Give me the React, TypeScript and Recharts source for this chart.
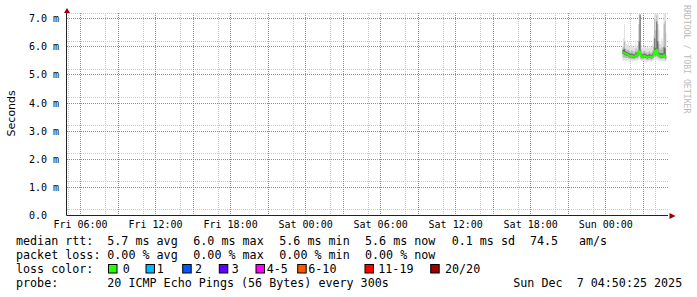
import React from "react";
import { ComposedChart, Area, Line, XAxis, YAxis, CartesianGrid } from "recharts";

// 5 minute steps on Sunday
const times = [
  "01:20", "01:25", "01:30", "01:35", "01:40", "01:45", "01:50", "01:55",
  "02:00", "02:05", "02:10", "02:15", "02:20", "02:25", "02:30", "02:35",
  "02:40", "02:45", "02:50", "02:55", "03:00", "03:05", "03:10", "03:15",
  "03:20", "03:25", "03:30", "03:35", "03:40", "03:45", "03:50", "03:55",
  "04:00", "04:05", "04:10", "04:15", "04:20", "04:25", "04:30", "04:35",
  "04:40", "04:45", "04:50",
];

// ms
const median = [
  5.80, 5.80, 5.78, 5.76, 5.74, 5.73, 5.70, 5.68, 5.66, 5.68, 5.66, 5.64, 5.66, 5.70, 5.68, 5.72,
  5.84, 5.78, 5.66, 5.64, 5.66, 5.68, 5.66, 5.64, 5.62, 5.64, 5.66, 5.64, 5.62, 5.66, 5.70, 5.88,
  5.76, 5.92, 5.74, 5.70, 5.68, 5.66, 5.68, 5.66, 5.70, 5.64, 5.60,
];
const smokeMin = [
  5.52, 5.50, 5.52, 5.50, 5.50, 5.52, 5.50, 5.48, 5.50, 5.50, 5.48, 5.50, 5.50, 5.52, 5.50, 5.52,
  5.55, 5.52, 5.50, 5.48, 5.50, 5.50, 5.50, 5.48, 5.46, 5.48, 5.50, 5.48, 5.48, 5.50, 5.52, 5.55,
  5.52, 5.56, 5.52, 5.50, 5.50, 5.48, 5.50, 5.48, 5.50, 5.48, 5.46,
];
const smokeMax = [
  6.05, 6.30, 6.80, 6.20, 6.10, 6.05, 6.15, 6.00, 5.98, 6.10, 6.00, 5.95, 6.05, 6.20, 6.00, 6.10,
  7.15, 7.15, 6.10, 5.95, 6.00, 6.05, 5.98, 5.95, 6.00, 5.95, 6.05, 5.98, 6.00, 6.10, 6.40, 7.18,
  7.18, 7.18, 7.18, 6.60, 6.20, 6.10, 6.30, 6.20, 7.18, 7.18, 7.18,
];
const midLo = [
  5.64, 5.62, 5.62, 5.60, 5.60, 5.60, 5.58, 5.58, 5.56, 5.58, 5.56, 5.55, 5.56, 5.60, 5.58, 5.60,
  5.66, 5.64, 5.56, 5.55, 5.56, 5.58, 5.56, 5.55, 5.54, 5.55, 5.56, 5.55, 5.54, 5.56, 5.60, 5.66,
  5.62, 5.68, 5.62, 5.60, 5.58, 5.56, 5.58, 5.56, 5.60, 5.55, 5.52,
];
const midHi = [
  5.95, 6.00, 6.20, 5.95, 5.90, 5.88, 5.90, 5.85, 5.82, 5.88, 5.84, 5.80, 5.85, 5.95, 5.86, 5.92,
  6.80, 7.10, 5.90, 5.80, 5.84, 5.86, 5.82, 5.80, 5.80, 5.80, 5.84, 5.80, 5.80, 5.88, 6.00, 7.00,
  6.60, 7.10, 6.80, 6.10, 5.95, 5.90, 6.00, 5.95, 6.80, 6.90, 6.50,
];
const innerLo = [
  5.74, 5.74, 5.72, 5.70, 5.68, 5.68, 5.65, 5.63, 5.61, 5.63, 5.61, 5.60, 5.61, 5.65, 5.63, 5.67,
  5.76, 5.72, 5.61, 5.60, 5.61, 5.63, 5.61, 5.60, 5.58, 5.60, 5.61, 5.60, 5.58, 5.61, 5.65, 5.78,
  5.70, 5.82, 5.68, 5.65, 5.63, 5.61, 5.63, 5.61, 5.65, 5.60, 5.56,
];
const innerHi = [
  5.88, 5.90, 5.92, 5.84, 5.82, 5.80, 5.78, 5.76, 5.74, 5.76, 5.74, 5.72, 5.74, 5.80, 5.76, 5.82,
  6.20, 7.15, 5.76, 5.72, 5.74, 5.76, 5.74, 5.72, 5.70, 5.72, 5.74, 5.72, 5.70, 5.76, 5.82, 6.30,
  5.95, 6.90, 6.20, 5.80, 5.78, 5.76, 5.78, 5.76, 6.00, 5.95, 5.70,
];

// hours since Fri 00:00
const xTicks = [6, 12, 18, 24, 30, 36, 42, 48];
const xTickLabels = [
  "Fri 06:00", "Fri 12:00", "Fri 18:00", "Sat 00:00",
  "Sat 06:00", "Sat 12:00", "Sat 18:00", "Sun 00:00",
];
const yTicks = [0, 1, 2, 3, 4, 5, 6, 7];
const yTickLabels = ["0.0", "1.0 m", "2.0 m", "3.0 m", "4.0 m", "5.0 m", "6.0 m", "7.0 m"];

const lossColors = ["#26ff00", "#00b8ff", "#0059ff", "#5e00ff", "#ff00ff", "#ff5500", "#ff0000", "#a00000"];
const lossLabels = ["0", "1", "2", "3", "4-5", "6-10", "11-19", "20/20"];

const data = times.map((t, i) => {
  const [hh, mm] = t.split(":").map(Number);
  return {
    x: 48 + hh + mm / 60,
    median: median[i],
    outer: [smokeMin[i], smokeMax[i]],
    mid: [midLo[i], midHi[i]],
    inner: [innerLo[i], innerHi[i]],
  };
});

const X_DOMAIN: [number, number] = [4.88, 52.98];
const Y_DOMAIN: [number, number] = [0, 7.2];

const minorX: number[] = [];
const majorX: number[] = [];
for (let h = 5; h <= 52; h++) (h % 3 === 0 ? majorX : minorX).push(h);
const minorY: number[] = [];
const majorY: number[] = [];
for (let k = 1; k <= 36; k++) (k % 5 === 0 ? majorY : minorY).push(k / 5);

const MONO = "'DejaVu Sans Mono', monospace";

const legendRows = [
  { y: 245, parts: [[16, "median rtt:"], [107.3, "5.7 ms avg"], [193.3, "6.0 ms max"], [279.3, "5.6 ms min"], [365, "5.6 ms now"], [451.7, "0.1 ms sd"], [530, "74.5"], [579, "am/s"]] },
  { y: 259, parts: [[16, "packet loss:"], [107.3, "0.00 % avg"], [193.3, "0.00 % max"], [279.3, "0.00 % min"], [365, "0.00 % now"]] },
  { y: 273, parts: [[16, "loss color:"]] },
  { y: 287, parts: [[16, "probe:"], [107.3, "20 ICMP Echo Pings (56 Bytes) every 300s"], [513.3, "Sun Dec  7 04:50:25 2025"]] },
];
const boxX = [108.5, 146, 182.7, 219.3, 256, 297.7, 365, 430.7];
const boxLabelX = [122.7, 156.7, 195, 231.7, 266.7, 308.3, 378.3, 445];

function XTick(p: any) {
  return (
    <text x={p.x} y={228} textAnchor="middle" fontFamily={MONO} fontSize={10} fill="#000">
      {xTickLabels[xTicks.indexOf(p.payload.value)]}
    </text>
  );
}

function YTick(p: any) {
  return (
    <text x={29} y={p.y + 3.5} textAnchor="start" fontFamily={MONO} fontSize={10} fill="#000">
      {yTickLabels[yTicks.indexOf(p.payload.value)]}
    </text>
  );
}

export default function App() {
  return (
    <div style={{ position: "absolute", left: 0, top: 0, width: 697, height: 297, background: "#fff" }}>
      <ComposedChart width={697} height={297} data={data} margin={{ top: 13, right: 29, bottom: 0, left: 0 }}>
        <CartesianGrid
          stroke="#c8c8c8"
          strokeDasharray="1 1"
          shapeRendering="crispEdges"
          verticalValues={minorX}
          horizontalValues={minorY}
        />
        <CartesianGrid
          stroke="#ff6060"
          strokeDasharray="1 1"
          shapeRendering="crispEdges"
          verticalValues={majorX}
          horizontalValues={majorY}
        />
        <XAxis
          dataKey="x"
          type="number"
          domain={X_DOMAIN}
          ticks={xTicks}
          allowDataOverflow
          height={81.5}
          axisLine={{ stroke: "#222" }}
          tickLine={false}
          tick={<XTick />}
        />
        <YAxis
          type="number"
          domain={Y_DOMAIN}
          ticks={yTicks}
          allowDataOverflow
          width={66.5}
          axisLine={{ stroke: "#222" }}
          tickLine={false}
          tick={<YTick />}
        />
        <Area dataKey="outer" type="step" stroke="none" fill="#e2e2e2" fillOpacity={1} isAnimationActive={false} />
        <Area dataKey="mid" type="step" stroke="none" fill="#b8b8b8" fillOpacity={1} isAnimationActive={false} />
        <Area dataKey="inner" type="step" stroke="none" fill="#6a6a6a" fillOpacity={1} isAnimationActive={false} />
        <Line dataKey="median" type="linear" stroke="#26ff00" strokeWidth={2} dot={false} isAnimationActive={false} />
      </ComposedChart>
      <svg width={8} height={6} style={{ position: "absolute", left: 62.5, top: 8, pointerEvents: "none" }}>
        <polygon points="1,5 7,5 4,0" fill="#990000" />
      </svg>
      <svg width={7} height={8} style={{ position: "absolute", left: 668.5, top: 211.5, pointerEvents: "none" }}>
        <polygon points="0.5,1 0.5,7 6.5,4" fill="#990000" />
      </svg>
      <svg width={697} height={297} style={{ position: "absolute", left: 0, top: 0, pointerEvents: "none" }}>
        <text
          transform="translate(14.5,113.3) rotate(-90)"
          textAnchor="middle"
          fontFamily="'DejaVu Sans', sans-serif"
          fontSize={11}
          fill="#000"
        >
          Seconds
        </text>
        <text transform="translate(684,5) rotate(90)" fontFamily={MONO} fontSize={8.2} fill="#bbb">
          RRDTOOL / TOBI OETIKER
        </text>
        {legendRows.map((row) =>
          row.parts.map(([x, s]) => (
            <text
              key={`${row.y}-${x}`}
              x={x as number}
              y={row.y}
              fontFamily={MONO}
              fontSize={11.7}
              fill="#000"
              xmlSpace="preserve"
              style={{ whiteSpace: "pre" }}
            >
              {s}
            </text>
          ))
        )}
        {lossColors.map((c, i) => (
          <g key={c}>
            <rect x={boxX[i]} y={264.5} width={8.5} height={8.5} fill={c} stroke="#000" strokeWidth={1} />
            <text x={boxLabelX[i]} y={273} fontFamily={MONO} fontSize={11.7} fill="#000">
              {lossLabels[i]}
            </text>
          </g>
        ))}
      </svg>
    </div>
  );
}
